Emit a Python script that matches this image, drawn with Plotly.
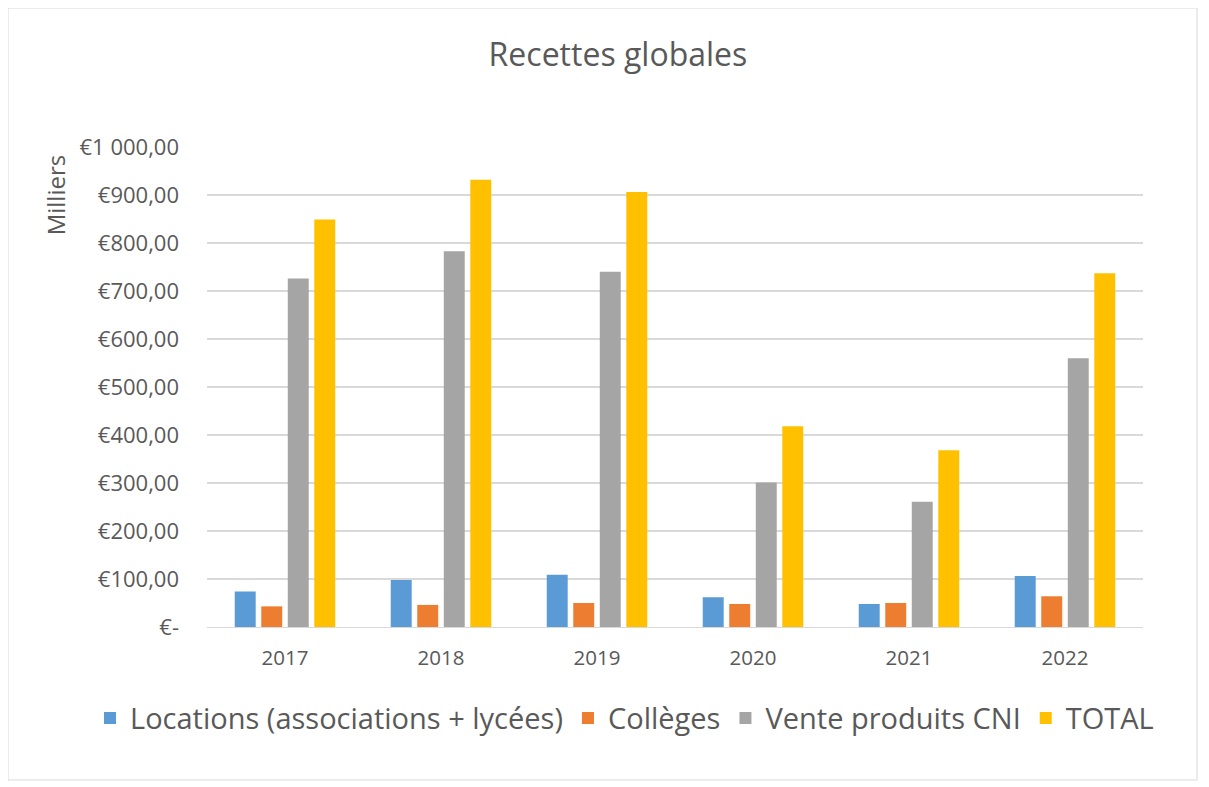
import plotly.graph_objects as go

years = ["2017", "2018", "2019", "2020", "2021", "2022"]
locations = [74, 98, 109, 62, 48, 106]
colleges = [43, 46, 50, 48, 50, 64]
vente_cni = [726, 783, 740, 301, 261, 560]
total = [849, 932, 906, 418, 368, 737]

series_names = ["Locations (associations + lycées)", "Collèges", "Vente produits CNI", "TOTAL"]
series_values = [locations, colleges, vente_cni, total]
series_colors = ["#5B9BD5", "#ED7D31", "#A5A5A5", "#FFC000"]

tick_vals = [0, 100, 200, 300, 400, 500, 600, 700, 800, 900, 1000]
tick_text = ["€-", "€100,00", "€200,00", "€300,00", "€400,00", "€500,00",
             "€600,00", "€700,00", "€800,00", "€900,00", "€1 000,00"]

FONT = "'Open Sans', sans-serif"
GREY = "#595959"

fig = go.Figure()
for name, vals, col in zip(series_names, series_values, series_colors):
    fig.add_trace(go.Bar(x=years, y=vals, name=name, marker=dict(color=col, line=dict(width=0))))

fig.update_layout(
    width=1209, height=787,
    paper_bgcolor="white", plot_bgcolor="white",
    margin=dict(l=199, r=74, t=139, b=168, autoexpand=False),
    barmode="group", bargap=0.32, bargroupgap=0.21,
    font=dict(family=FONT, color=GREY),
    title=dict(text="Recettes globales", x=0.5045, xanchor="center", y=0.940, yanchor="middle",
               font=dict(size=32, color=GREY, family=FONT)),
    showlegend=True,
    legend=dict(orientation="h", xref="paper", x=-0.125, xanchor="left",
                yref="paper", y=-0.19, yanchor="middle",
                font=dict(size=29, color=GREY, family=FONT), itemwidth=30, traceorder="normal"),
    xaxis=dict(type="category", showgrid=False, showline=True, linecolor="#D9D9D9", linewidth=1,
               tickfont=dict(size=20.5, color=GREY), ticks="", ticklabelstandoff=12),
    yaxis=dict(range=[0, 1000], tickvals=tick_vals, ticktext=tick_text, showgrid=True,
               gridcolor="#D9D9D9", gridwidth=1.5, zeroline=False, showline=False,
               tickfont=dict(size=22, color=GREY), ticks="", ticklabelstandoff=27),
)

fig.add_annotation(text="Milliers", xref="paper", yref="paper", x=-0.162, y=0.90,
                   textangle=-90, showarrow=False, font=dict(size=24, color=GREY, family=FONT),
                   xanchor="center", yanchor="middle")

fig.add_shape(type="rect", xref="paper", yref="paper", x0=-0.2126, x1=1.0577, y0=-0.3187, y1=1.2896,
              line=dict(color="#D9D9D9", width=1), fillcolor="rgba(0,0,0,0)", layer="below")

fig.write_html("out.html")
